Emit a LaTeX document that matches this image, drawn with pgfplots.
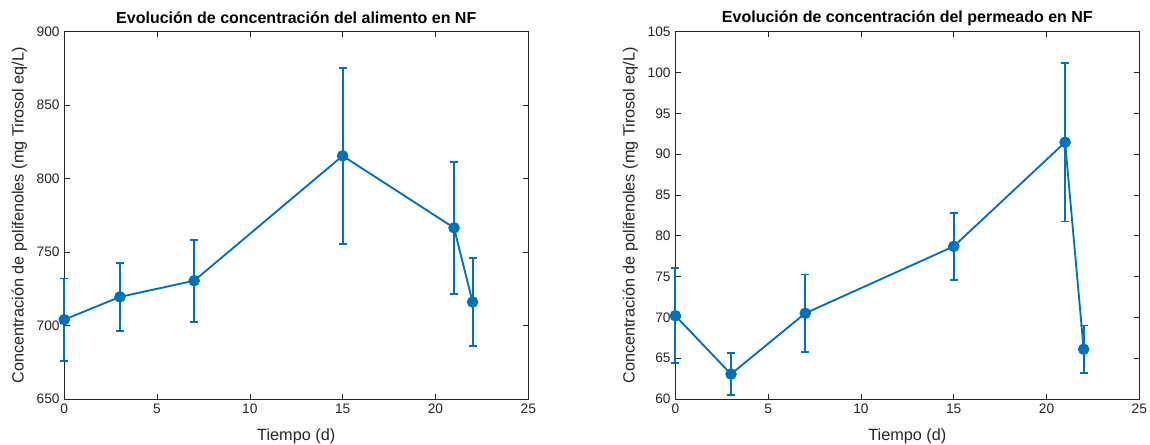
\documentclass[border=0pt]{standalone}
\usepackage{pgfplots}
\pgfplotsset{compat=1.18}
\usepackage{fontspec}
\setmainfont{Liberation Sans}

\definecolor{mblue}{RGB}{0,114,189}
\definecolor{axgray}{RGB}{38,38,38}

% time (d), concentration, standard deviation
\pgfplotstableread{
t   c      e
0   704.0  28.0
3   719.5  23.0
7   730.5  28.0
15  815.5  60.0
21  766.5  45.0
22  716.0  30.0
}\alimento

\pgfplotstableread{
t   c      e
0   70.2   5.8
3   63.05  2.55
7   70.5   4.75
15  78.7   4.1
21  91.45  9.7
22  66.1   2.9
}\permeado

\pgfplotsset{
  nfstyle/.style={
    scale only axis,
    width=348pt, height=275.5pt,
    xmin=0, xmax=25,
    xtick={0,5,10,15,20,25},
    clip=false,
    tick pos=both, tick align=inside,
    xticklabel pos=left, yticklabel pos=left,
    major tick length=4pt,
    axis line style={axgray, line width=0.5pt},
    every tick/.style={axgray, line width=0.5pt},
    tick label style={font=\fontsize{10.3}{12}\selectfont, text=axgray},
    /pgf/number format/assume math mode=true,
    label style={font=\fontsize{12.2}{14}\selectfont, text=axgray},
    title style={font=\fontsize{12}{14}\selectfont\bfseries, at={(axis description cs:0.5,1.037)}, anchor=center, yshift=-6pt},
    xlabel style={at={(axis description cs:0.5,-0.102)}, anchor=center},
    ylabel style={at={(axis description cs:-0.097,0.5)}, anchor=center, rotate=0},
    xlabel={Tiempo (d)},
    ylabel={Concentración de polifenoles (mg Tirosol eq/L)},
  },
  nfline/.style={
    mblue, line width=1.4pt,
    mark=*, mark size=3.6pt, mark options={mblue, fill=mblue},
    error bars/.cd, y dir=both, y explicit,
    error bar style={mblue, line width=1.4pt},
    error mark options={mblue, rotate=90, mark size=3pt, line width=1.4pt},
  },
}

\begin{document}
\begin{tikzpicture}
\path[use as bounding box] (0,0) rectangle (862.5pt,333pt);

\begin{axis}[nfstyle,
  at={(48.2pt,33.75pt)}, anchor=south west,
  ymin=650, ymax=900, ytick={650,700,...,900},
  title={Evolución de concentración del alimento en NF}]
\addplot+[nfline] table[x=t, y=c, y error=e] {\alimento};
\end{axis}

\begin{axis}[nfstyle,
  at={(506.5pt,33.75pt)}, anchor=south west,
  ymin=60, ymax=105, ytick={60,65,...,105},
  title={Evolución de concentración del permeado en NF}]
\addplot+[nfline] table[x=t, y=c, y error=e] {\permeado};
\end{axis}
\end{tikzpicture}
\end{document}
